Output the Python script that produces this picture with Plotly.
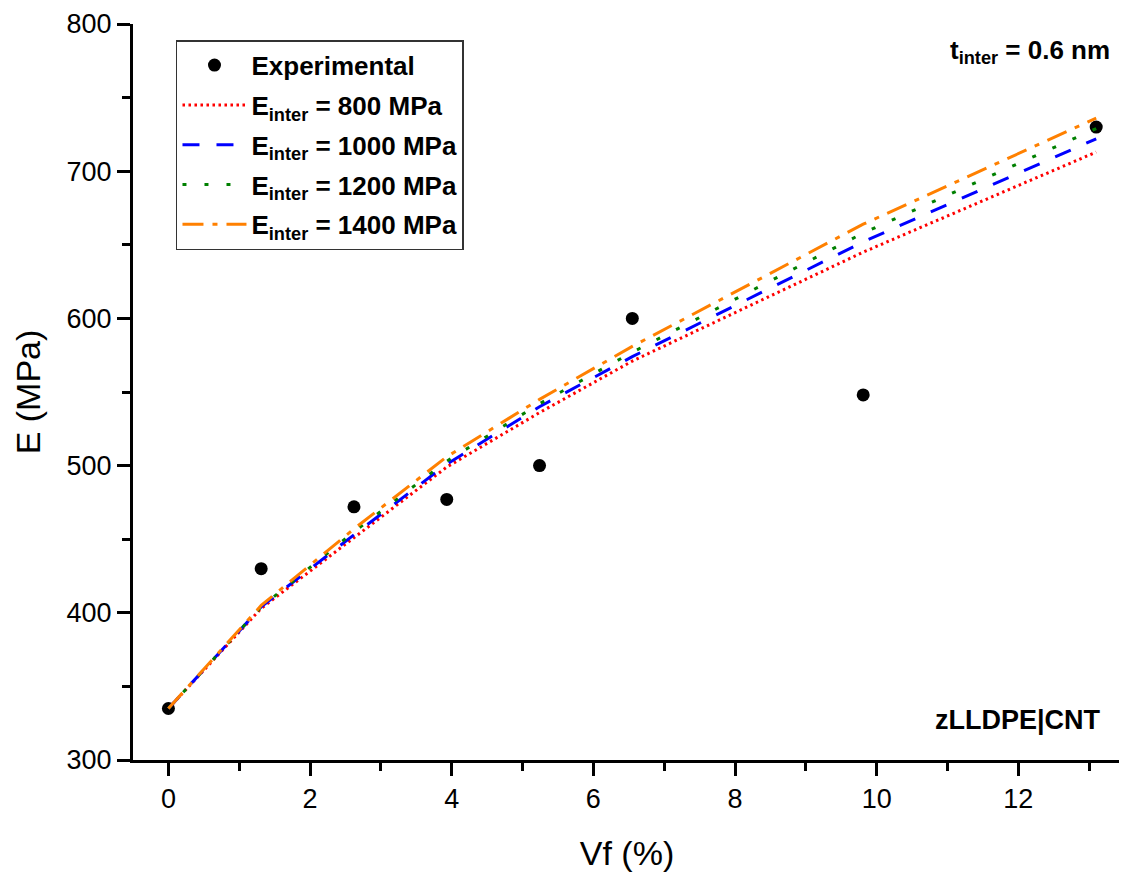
import plotly.graph_objects as go

vf = [0, 1.31, 2.62, 3.93, 5.24, 6.55, 9.81, 13.1]
exp_E = [335, 430, 472, 477, 500, 600, 548, 730]

model_x = [0, 1.31, 2.62, 3.93, 5.24, 6.55, 9.81, 13.1]
e800 = [335, 403, 451, 499, 536, 571, 645, 713]
e1000 = [335, 404, 453, 501, 540, 574, 652, 722]
e1200 = [335, 404, 455, 503, 542, 577, 658, 729]
e1400 = [335, 405, 457, 506, 545, 581, 664, 736]

FONT = "Liberation Sans"

fig = go.Figure()
fig.add_trace(go.Scatter(x=vf, y=exp_E, mode="markers", name="<b>Experimental</b>",
                         legendgroup="g0",
                         marker=dict(color="black", size=13)))
series = [
    (e800, "<b>E<sub>inter</sub> = 800 MPa</b>", "#ff0000", "2.5px,3.5px"),
    (e1000, "<b>E<sub>inter</sub> = 1000 MPa</b>", "#0000ff", "17px,17px"),
    (e1200, "<b>E<sub>inter</sub> = 1200 MPa</b>", "#008000", "4px,18px"),
    (e1400, "<b>E<sub>inter</sub> = 1400 MPa</b>", "#ff8000", "21px,9px,5px,9px"),
]
for i, (ys, nm, col, dash) in enumerate(series):
    fig.add_trace(go.Scatter(x=model_x, y=ys, mode="lines", name=nm,
                             legendgroup=f"g{i+1}",
                             line=dict(color=col, width=3, dash=dash)))

axis_common = dict(showline=True, linecolor="black", linewidth=3, ticks="outside",
                   ticklen=13, tickwidth=3, tickcolor="black", showgrid=False, zeroline=False,
                   automargin=False,
                   tickfont=dict(family=FONT, size=27, color="black"))

# page body has an 8px margin, so the figure is shrunk by 8px
fig.update_layout(
    width=1119, height=870,
    margin=dict(l=125, r=6, t=16, b=118),
    plot_bgcolor="white", paper_bgcolor="white",
    font=dict(family=FONT, color="black"),
    xaxis=dict(range=[-0.5, 13.45], tickvals=[0, 2, 4, 6, 8, 10, 12],
               minor=dict(ticks="outside", ticklen=8, tickwidth=3, tickcolor="black", dtick=1, tick0=0),
               title=dict(text="Vf (%)", font=dict(family=FONT, size=34), standoff=28),
               **axis_common),
    yaxis=dict(range=[300, 800], tickvals=[300, 400, 500, 600, 700, 800],
               minor=dict(ticks="outside", ticklen=8, tickwidth=3, tickcolor="black", dtick=50, tick0=300),
               title=dict(text="E (MPa)", font=dict(family=FONT, size=34), standoff=16),
               **axis_common),
    legend=dict(x=0.0435, y=0.978, xanchor="left", yanchor="top",
                bgcolor="white", bordercolor="#333", borderwidth=1.5,
                font=dict(family=FONT, size=26, color="black"),
                itemwidth=64, tracegroupgap=3),
    showlegend=True,
)
# right frame line
fig.add_shape(type="line", xref="paper", yref="paper", x0=1, x1=1, y0=0, y1=1,
              line=dict(color="black", width=2))

fig.add_annotation(xref="paper", yref="paper", x=0.991, y=0.962, xanchor="right", yanchor="middle",
                   text="<b>t<sub>inter</sub> = 0.6 nm</b>", showarrow=False,
                   font=dict(family=FONT, size=26, color="black"))
fig.add_annotation(xref="paper", yref="paper", x=0.982, y=0.054, xanchor="right", yanchor="middle",
                   text="<b>zLLDPE|CNT</b>", showarrow=False,
                   font=dict(family=FONT, size=27, color="black"))

fig.write_html("out.html")
